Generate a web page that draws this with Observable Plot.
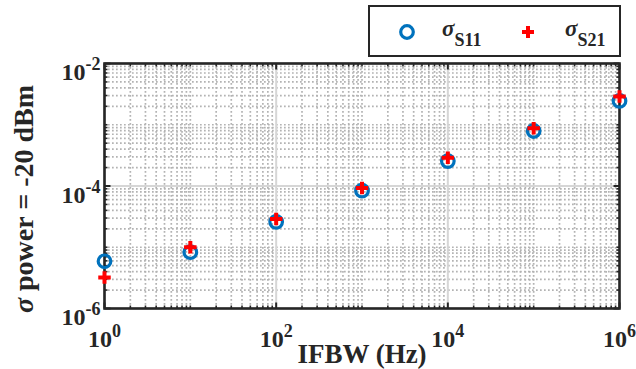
<!DOCTYPE html>
<html>
<head>
<meta charset="utf-8">
<script src="https://cdn.jsdelivr.net/npm/d3@7"></script>
<script src="https://cdn.jsdelivr.net/npm/@observablehq/plot@0.6"></script>
<style>
  body { margin: 0; background: #fff; }
  #wrap { position: relative; width: 636px; height: 369px; font-family: "Liberation Serif", "Times New Roman", serif; }
  #legend { position: absolute; left: 368px; top: 5px; }
</style>
</head>
<body>
<div id="wrap"><div id="chart"></div></div>
<script>
// ---- data ----
const ifbw = [1, 10, 100, 1000, 1e4, 1e5, 1e6];
const sigmaS11 = [5.9e-6, 8.3e-6, 2.6e-5, 8.4e-5, 2.55e-4, 7.9e-4, 2.45e-3];
const sigmaS21 = [3.2e-6, 1.0e-5, 2.9e-5, 9.3e-5, 2.9e-4, 8.8e-4, 2.9e-3];
const seriesNames = ["S11", "S21"];
const seriesColors = ["#0072BD", "#FF0000"];
const xMajor = [1, 1e2, 1e4, 1e6];
const xTickLabels = ["10^0", "10^2", "10^4", "10^6"];
const yMajor = [1e-6, 1e-4, 1e-2];
const yTickLabels = ["10^-6", "10^-4", "10^-2"];
const xLabel = "IFBW (Hz)";
const yLabel = "σ power = -20 dBm";

// minor ticks (2..9 per decade and the unlabeled decades)
const minorOf = (lo, hi, major) =>
  d3.range(lo, hi).flatMap(k => d3.range(1, 10).map(m => +(m * Math.pow(10, k)).toPrecision(6)))
    .filter(v => !major.some(M => Math.abs(M - v) / M < 1e-9));
const xMinor = minorOf(0, 6, xMajor);
const yMinor = minorOf(-6, -2, yMajor);

const table = ifbw.map((x, i) => ({x, s11: sigmaS11[i], s21: sigmaS21[i]}));

// custom inward tick symbol
const tickSym = (ux, uy) => ({
  draw(ctx, size) { const L = Math.sqrt(size / Math.PI); ctx.moveTo(0, 0); ctx.lineTo(ux * L, uy * L); }
});
const ink = "#262626";
const tickMarks = (vals, len, sw) => [
  Plot.dot(vals, {x: d => d, frameAnchor: "bottom", symbol: tickSym(0, -1), r: len, stroke: ink, strokeWidth: sw, fill: "none"}),
  Plot.dot(vals, {x: d => d, frameAnchor: "top", symbol: tickSym(0, 1), r: len, stroke: ink, strokeWidth: sw, fill: "none"})
];
const tickMarksY = (vals, len, sw) => [
  Plot.dot(vals, {y: d => d, frameAnchor: "left", symbol: tickSym(1, 0), r: len, stroke: ink, strokeWidth: sw, fill: "none"}),
  Plot.dot(vals, {y: d => d, frameAnchor: "right", symbol: tickSym(-1, 0), r: len, stroke: ink, strokeWidth: sw, fill: "none"})
];

const minorGrid = {stroke: "#b3b3b3", strokeOpacity: 1, strokeWidth: 1.7, strokeDasharray: "1.7,2.3"};
const majorGrid = {stroke: "#d6d6d6", strokeOpacity: 1, strokeWidth: 2};

const chart = Plot.plot({
  width: 636, height: 369,
  marginLeft: 104, marginRight: 17, marginTop: 63, marginBottom: 61,
  x: {type: "log", domain: [1, 1e6], axis: null},
  y: {type: "log", domain: [1e-6, 1e-2], axis: null},
  style: {fontFamily: '"Liberation Serif", "Times New Roman", serif', background: "#fff", overflow: "visible", color: ink},
  marks: [
    Plot.gridX(xMinor, minorGrid),
    Plot.gridY(yMinor, minorGrid),
    Plot.gridX(xMajor, majorGrid),
    Plot.gridY(yMajor, majorGrid),
    ...tickMarks(xMinor, 3, 1.6),
    ...tickMarks(xMajor, 6, 2),
    ...tickMarksY(yMinor, 3, 1.6),
    ...tickMarksY(yMajor, 6, 2),
    Plot.frame({stroke: ink, strokeWidth: 2.6}),
    Plot.dot(table, {x: "x", y: "s11", r: 6.3, symbol: "circle", stroke: seriesColors[0], strokeWidth: 3.2, fill: "none"}),
    Plot.dot(table, {x: "x", y: "s21", r: 4.1, symbol: "plus", stroke: seriesColors[1], strokeWidth: 4}),
    Plot.text(xMajor, {x: d => d, frameAnchor: "bottom", text: (d, i) => xTickLabels[i], dy: 38, fontSize: 24, fontWeight: "bold", fill: ink}),
    Plot.text(yMajor, {y: d => d, frameAnchor: "left", text: (d, i) => yTickLabels[i], textAnchor: "end", dx: -4, dy: 9, fontSize: 24, fontWeight: "bold", fill: ink}),
    Plot.text([xLabel], {frameAnchor: "bottom", text: d => d, dy: 54, fontSize: 27, fontWeight: "bold", fill: ink}),
    Plot.text([yLabel], {frameAnchor: "left", text: d => d, rotate: -90, textAnchor: "middle", dx: -80, dy: 13, fontSize: 28, fontWeight: "bold", fill: ink})
  ]
});

// superscripts and italic sigma
d3.select(chart).selectAll("text").each(function () {
  const t = this.textContent;
  const m = t.match(/^10\^(-?\d+)$/);
  if (m) {
    this.textContent = "10";
    d3.select(this).append("tspan").attr("dy", -10).attr("font-size", 18).text(m[1]);
  } else if (t.startsWith("σ")) {
    this.textContent = "";
    d3.select(this).append("tspan").attr("font-style", "italic").text("σ");
    d3.select(this).append("tspan").text(t.slice(1));
  }
});
document.getElementById("chart").appendChild(chart);

// legend
const leg = d3.select("#wrap").append("svg").attr("id", "legend").attr("width", 253).attr("height", 52)
  .style("font-family", '"Liberation Serif", "Times New Roman", serif').style("font-weight", "bold");
leg.append("rect").attr("x", 1).attr("y", 1).attr("width", 251).attr("height", 50)
  .attr("fill", "#fff").attr("stroke", ink).attr("stroke-width", 2);
const itemX = [39, 160];
const textX = [74, 197];
seriesNames.forEach((name, i) => {
  if (i === 0) {
    leg.append("circle").attr("cx", itemX[i]).attr("cy", 27).attr("r", 6.3)
      .attr("fill", "none").attr("stroke", seriesColors[i]).attr("stroke-width", 3.2);
  } else {
    leg.append("path").attr("d", `M${itemX[i] - 6},27H${itemX[i] + 6}M${itemX[i]},21V33`)
      .attr("stroke", seriesColors[i]).attr("stroke-width", 4);
  }
  const tx = leg.append("text").attr("x", textX[i]).attr("y", 31).attr("fill", ink);
  tx.append("tspan").attr("font-style", "italic").attr("font-size", 23).text("σ");
  tx.append("tspan").attr("font-size", 18).attr("dy", 10).text(name);
});
</script>
</body>
</html>
